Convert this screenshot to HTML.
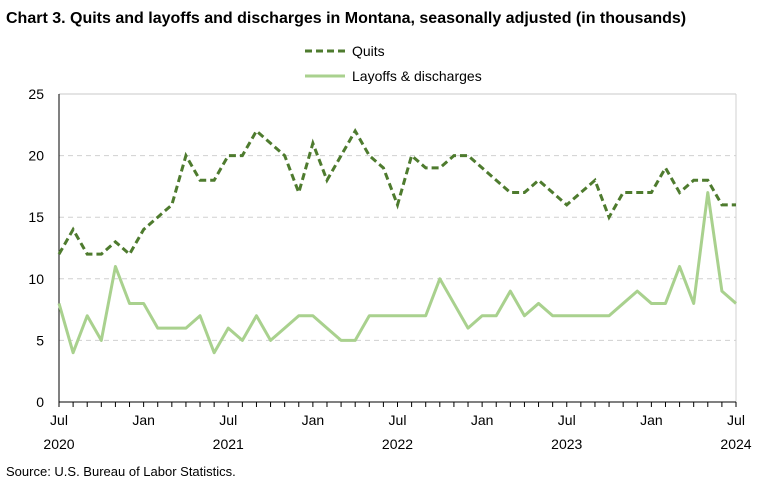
<!DOCTYPE html>
<html><head><meta charset="utf-8"><style>
body{margin:0;background:#fff;font-family:"Liberation Sans",sans-serif}
svg text{font-family:"Liberation Sans",sans-serif;fill:#000}
</style></head><body>
<svg id="c" width="780" height="488">
<text x="6" y="23" font-size="16" font-weight="bold">Chart 3. Quits and layoffs and discharges in Montana, seasonally adjusted (in thousands)</text>
<g>
<line x1="305" y1="51" x2="345" y2="51" stroke="#4e7b2e" stroke-width="3" stroke-dasharray="7,4"/>
<text x="352" y="56" font-size="14">Quits</text>
<line x1="305" y1="76" x2="345" y2="76" stroke="#a9d18e" stroke-width="3"/>
<text x="352" y="81" font-size="14">Layoffs &amp; discharges</text>
</g>
<g id="grid"></g><g id="axes"></g><g id="series"></g>
<text x="6" y="476" font-size="13">Source: U.S. Bureau of Labor Statistics.</text>
</svg>
<script>
const quits=[12,14,12,12,13,12,14,15,16,20,18,18,20,20,22,21,20,17,21,18,20,22,20,19,16,20,19,19,20,20,19,18,17,17,18,17,16,17,18,15,17,17,17,19,17,18,18,16,16];
const layoffs=[8,4,7,5,11,8,8,6,6,6,7,4,6,5,7,5,6,7,7,6,5,5,7,7,7,7,7,10,8,6,7,7,9,7,8,7,7,7,7,7,8,9,8,8,11,8,17,9,8];
const yTicks=[0,5,10,15,20,25];
const xLabels=[[0,"Jul","2020"],[6,"Jan",""],[12,"Jul","2021"],[18,"Jan",""],[24,"Jul","2022"],[30,"Jan",""],[36,"Jul","2023"],[42,"Jan",""],[48,"Jul","2024"]];
const NS="http://www.w3.org/2000/svg";
const X0=59,X1=736,Y0=402,Y1=94;
const xs=i=>X0+(X1-X0)*i/(quits.length-1);
const ys=v=>Y0-(Y0-Y1)*v/25;
function mk(t,a,p){const e=document.createElementNS(NS,t);for(const k in a)e.setAttribute(k,a[k]);p.appendChild(e);return e;}
const grid=document.getElementById('grid'),axes=document.getElementById('axes'),ser=document.getElementById('series');
yTicks.forEach(v=>{
 if(v>0){const g=mk('line',{x1:X0,x2:X1,y1:ys(v),y2:ys(v),stroke:v==25?'#c8c8c8':'#d0d0d0','stroke-dasharray':v==25?'':'5,4'},grid);
 
 }
 const t=mk('text',{x:44,y:ys(v)+5,'font-size':14,'text-anchor':'end'},axes);t.textContent=v;
 
 
});
const rb=mk('line',{x1:X1,x2:X1,y1:Y1,y2:Y0,stroke:'#d0d0d0'},grid);


const ya=mk('line',{x1:X0,x2:X0,y1:Y1,y2:Y0,stroke:'#000'},axes);


const xa=mk('line',{x1:X0,x2:X1,y1:Y0,y2:Y0,stroke:'#000'},axes);


for(let i=0;i<quits.length;i++){const tk=mk('line',{x1:xs(i),x2:xs(i),y1:Y0,y2:Y0+5,stroke:'#000'},axes);
 
 }
xLabels.forEach(([i,m,yr])=>{
 const t=mk('text',{x:xs(i),y:425,'font-size':14,'text-anchor':'middle'},axes);t.textContent=m;
 
 
 if(yr){const u=mk('text',{x:xs(i),y:449,'font-size':14,'text-anchor':'middle'},axes);u.textContent=yr;
 
 }
});
const lp=mk('polyline',{points:layoffs.map((v,i)=>xs(i)+','+ys(v)).join(' '),fill:'none',stroke:'#a9d18e','stroke-width':3,'stroke-linejoin':'round'},ser);


const qp=mk('polyline',{points:quits.map((v,i)=>xs(i)+','+ys(v)).join(' '),fill:'none',stroke:'#4e7b2e','stroke-width':3,'stroke-dasharray':'7,4'},ser);


</script>
</body></html>
